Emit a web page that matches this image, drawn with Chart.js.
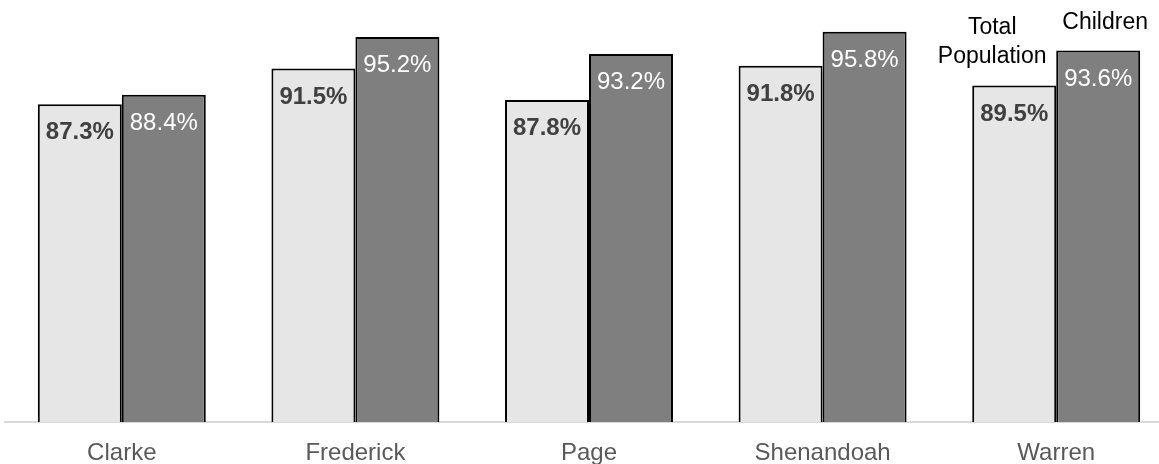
<!DOCTYPE html>
<html>
<head>
<meta charset="utf-8">
<script src="https://cdn.jsdelivr.net/npm/chart.js@4.4.1/dist/chart.umd.min.js"></script>
<style>
  html, body { margin: 0; padding: 0; background: #fff; }
  body { width: 1159px; height: 464px; overflow: hidden; position: relative; }
  #c { position: absolute; left: 0; top: -4px; }
</style>
</head>
<body>
<canvas id="c" width="1180" height="469"></canvas>
<script>
const categories = ['Clarke', 'Frederick', 'Page', 'Shenandoah', 'Warren'];
const totalPopulation = [87.3, 91.5, 87.8, 91.8, 89.5];
const children = [88.4, 95.2, 93.2, 95.8, 93.6];
const seriesNames = ['Total Population', 'Children'];

const FONT = "'Liberation Sans', Arial, sans-serif";

const labelPlugin = {
  id: 'valueLabels',
  afterDatasetsDraw(chart) {
    const ctx = chart.ctx;
    ctx.save();
    ctx.textAlign = 'center';
    ctx.textBaseline = 'middle';
    chart.data.datasets.forEach((ds, di) => {
      const meta = chart.getDatasetMeta(di);
      meta.data.forEach((el, i) => {
        const v = ds.data[i];
        if (di === 0) {
          ctx.font = 'bold 24px ' + FONT;
          ctx.fillStyle = '#404040';
        } else {
          ctx.font = '24px ' + FONT;
          ctx.fillStyle = '#ffffff';
        }
        ctx.fillText(v.toFixed(1) + '%', el.x, el.y + 28.5);
      });
    });
    const last = categories.length - 1;
    const e0 = chart.getDatasetMeta(0).data[last];
    const e1 = chart.getDatasetMeta(1).data[last];
    ctx.font = '23px ' + FONT;
    ctx.fillStyle = '#000000';
    const words0 = seriesNames[0].split(' ');
    const lineH = 28.5;
    const baseY0 = e0.y - 29;
    for (let k = 0; k < words0.length; k++) {
      ctx.fillText(words0[k], e0.x - 22, baseY0 - (words0.length - 1 - k) * lineH);
    }
    ctx.fillText(seriesNames[1], e1.x + 7, e1.y - 27.5);
    ctx.restore();
  }
};

new Chart(document.getElementById('c'), {
  type: 'bar',
  data: {
    labels: categories,
    datasets: [
      {
        label: seriesNames[0],
        data: totalPopulation,
        backgroundColor: '#e6e6e6',
        borderColor: '#000000',
        borderWidth: 2,
        borderSkipped: 'bottom'
      },
      {
        label: seriesNames[1],
        data: children,
        backgroundColor: '#7f7f7f',
        borderColor: '#000000',
        borderWidth: 2,
        borderSkipped: 'bottom'
      }
    ]
  },
  options: {
    responsive: false,
    animation: false,
    devicePixelRatio: 1,
    layout: { padding: { left: 5, right: 7, top: 0, bottom: 0 } },
    plugins: {
      legend: { display: false },
      tooltip: { enabled: false }
    },
    datasets: {
      bar: { categoryPercentage: 0.719, barPercentage: 1.0 }
    },
    scales: {
      x: {
        grid: { display: false },
        border: { display: true, color: '#d9d9d9', width: 2 },
        ticks: {
          color: '#595959',
          font: { family: FONT, size: 24 },
          padding: 9,
          maxRotation: 0
        },
        afterFit(scale) { scale.height = 43; }
      },
      y: {
        display: false,
        min: 50,
        max: 100
      }
    }
  },
  plugins: [labelPlugin]
});
</script>
</body>
</html>
